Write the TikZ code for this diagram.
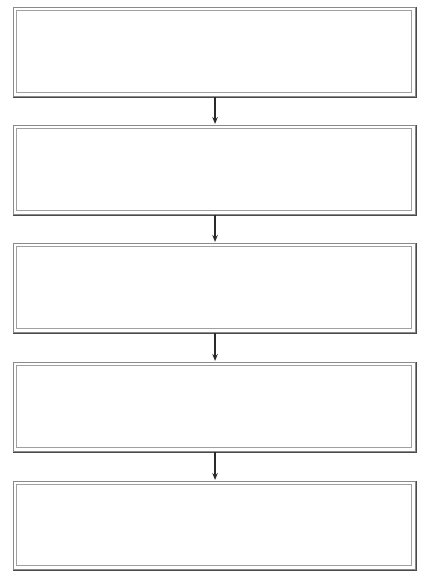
\documentclass[tikz,border=0pt]{standalone}
\usetikzlibrary{arrows.meta}
\definecolor{outerc}{HTML}{8A8A8A}
\definecolor{outerd}{HTML}{4A4A4A}
\definecolor{innerc}{HTML}{A0A0A0}
\definecolor{arrc}{HTML}{2A2A2A}
\tikzset{
  outerbox/.style={draw=outerc, line width=1.1pt},
  shadeedge/.style={draw=outerd, line width=1.1pt},
  innerbox/.style={draw=innerc, line width=0.9pt},
  flowarrow/.style={draw=arrc, line width=1.3pt, -{Stealth[length=7pt,width=5.5pt]}}
}
\begin{document}
\begin{tikzpicture}[x=1pt,y=-1pt]
\useasboundingbox (0,0) rectangle (428,578);
\foreach \n/\t/\b in {1/7/96, 2/125/214, 3/243/332, 4/362/451, 5/481/569}{
  \node[outerbox, minimum width=402pt, minimum height={(\b-\t)*1pt}, inner sep=0pt, anchor=north west] (b\n) at (13,\t) {};
  \draw[shadeedge] (b\n.north east) -- (b\n.south east) -- (b\n.south west);
  \draw[innerbox] ([xshift=3.5pt,yshift=-3.5pt]b\n.north west) rectangle ([xshift=-4.5pt,yshift=4.5pt]b\n.south east);
}
\foreach \a/\b in {1/2,2/3,3/4,4/5}{
  \draw[flowarrow] ([xshift=0.5pt]b\a.south) -- ([xshift=0.5pt,yshift=1pt]b\b.north);
}
\end{tikzpicture}
\end{document}
